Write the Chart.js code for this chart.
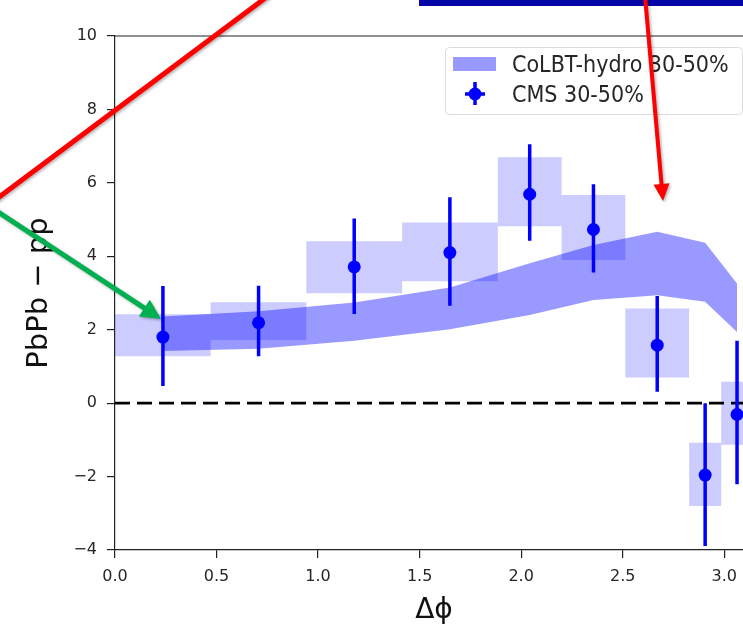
<!DOCTYPE html>
<html lang="en">
<head>
<meta charset="UTF-8">
<title>PbPb - pp</title>
<style>
  html, body { margin: 0; padding: 0; width: 743px; height: 631px; overflow: hidden; background: #fff; }
  .chart-box { position: relative; width: 760px; height: 631px; }
</style>
</head>
<body>

<div class="chart-box">
  <canvas id="myChart"></canvas>
</div>

<script src="https://cdn.jsdelivr.net/npm/chart.js"></script>
<script>

// CMS 30-50% bins (delta phi)
const binEdges = [0, 0.471, 0.942, 1.414, 1.885, 2.199, 2.513, 2.827, 2.985, 3.142];
const binCenters = [0.236, 0.707, 1.178, 1.649, 2.042, 2.356, 2.670, 2.906, 3.063];
const cmsValues = [1.80, 2.19, 3.71, 4.10, 5.69, 4.73, 1.58, -1.96, -0.31];
const statLow  = [0.47, 1.28, 2.43, 2.65, 4.42, 3.56, 0.31, -3.89, -2.21];
const statHigh = [3.19, 3.20, 5.03, 5.61, 7.05, 5.96, 2.92, 0.00, 1.70];
const sysLow   = [1.28, 1.72, 2.99, 3.32, 4.82, 3.90, 0.70, -2.80, -1.13];
const sysHigh  = [2.42, 2.75, 4.41, 4.92, 6.70, 5.67, 2.58, -1.08, 0.58];

// CoLBT-hydro 30-50% band
const bandX     = [0.236, 0.707, 1.178, 1.649, 2.042, 2.356, 2.670, 2.906, 3.063];
const bandUpper = [2.36, 2.50, 2.74, 3.15, 3.81, 4.31, 4.67, 4.37, 3.26];
const bandLower = [1.42, 1.48, 1.70, 2.01, 2.40, 2.81, 2.94, 2.76, 1.94];

const zeroLineX = [0, 3.1416];
const xTicks = [0, 0.5, 1.0, 1.5, 2.0, 2.5, 3.0];
const yTicks = [-4, -2, 0, 2, 4, 6, 8, 10];

const legendLabels = ['CoLBT-hydro 30-50%', 'CMS 30-50%'];

const FONT = "'DejaVu Sans', sans-serif";
const BLUE = 'rgb(0,0,255)';

///
var datasets = [];

datasets.push({
  label: legendLabels[0],
  data: bandX.map((x, i) => ({x: x, y: bandUpper[i]})),
  borderWidth: 0,
  pointRadius: 0,
  fill: '+1',
  backgroundColor: 'rgba(0,0,255,0.4)',
  order: 20
});
datasets.push({
  label: 'band-low',
  data: bandX.map((x, i) => ({x: x, y: bandLower[i]})),
  borderWidth: 0,
  pointRadius: 0,
  fill: false,
  order: 20
});

// systematic boxes
for (let i = 0; i < binCenters.length; i++) {
  datasets.push({
    label: 'sys' + i,
    data: [
      {x: binEdges[i], y: sysLow[i]},
      {x: binEdges[i], y: sysHigh[i]},
      {x: binEdges[i + 1], y: sysHigh[i]},
      {x: binEdges[i + 1], y: sysLow[i]}
    ],
    borderWidth: 0,
    pointRadius: 0,
    fill: 'shape',
    backgroundColor: 'rgba(0,0,255,0.2)',
    order: 15
  });
}

datasets.push({
  label: 'zero',
  data: zeroLineX.map(x => ({x: x, y: 0})),
  borderColor: '#000',
  borderWidth: 2.8,
  borderDash: [15, 7],
  pointRadius: 0,
  fill: false,
  order: 8
});

// stat error bars, one dataset broken by gaps
var errData = [];
binCenters.forEach((x, i) => {
  errData.push({x: x, y: statLow[i]});
  errData.push({x: x, y: statHigh[i]});
  errData.push({x: x, y: null});
});
datasets.push({
  label: 'stat',
  data: errData,
  borderColor: BLUE,
  borderWidth: 3.5,
  pointRadius: 0,
  spanGaps: false,
  fill: false,
  order: 3
});

datasets.push({
  label: legendLabels[1],
  data: binCenters.map((x, i) => ({x: x, y: cmsValues[i]})),
  showLine: false,
  pointRadius: 6.5,
  pointBorderWidth: 0,
  pointBackgroundColor: BLUE,
  order: 1
});

// top spine + legend + the slide overlays
const extras = {
  id: 'extras',
  afterDraw(chart) {
    const ctx = chart.ctx;
    const a = chart.chartArea;
    ctx.save();

    ctx.strokeStyle = '#222';
    ctx.lineWidth = 1.2;
    ctx.beginPath();
    ctx.moveTo(a.left, a.top);
    ctx.lineTo(a.right, a.top);
    ctx.stroke();

    // legend
    ctx.fillStyle = 'rgba(255,255,255,0.8)';
    ctx.strokeStyle = '#dcdcdc';
    ctx.lineWidth = 1;
    ctx.beginPath();
    ctx.roundRect(445.5, 47.5, 297, 67, 4);
    ctx.fill();
    ctx.stroke();

    ctx.fillStyle = 'rgba(0,0,255,0.4)';
    ctx.fillRect(453, 57, 43, 14);

    ctx.strokeStyle = BLUE;
    ctx.lineWidth = 3.5;
    ctx.beginPath();
    ctx.moveTo(475, 82);
    ctx.lineTo(475, 105);
    ctx.moveTo(465, 94);
    ctx.lineTo(485, 94);
    ctx.stroke();
    ctx.fillStyle = BLUE;
    ctx.beginPath();
    ctx.arc(475, 94, 6.5, 0, Math.PI * 2);
    ctx.fill();

    ctx.fillStyle = '#262626';
    ctx.font = '23px ' + FONT;
    ctx.textBaseline = 'alphabetic';
    [[legendLabels[0], 71.5], [legendLabels[1], 102]].forEach(t => {
      ctx.save();
      ctx.translate(512, t[1]);
      ctx.scale(0.9, 1);
      ctx.fillText(t[0], 0, 0);
      ctx.restore();
    });

    // overlays from the slide
    ctx.fillStyle = '#0606a8';
    ctx.fillRect(419, 0, 330, 6);

    ctx.shadowColor = 'rgba(0,0,0,0.3)';
    ctx.shadowBlur = 3;
    ctx.shadowOffsetX = 1.5;
    ctx.shadowOffsetY = 1.5;

    ctx.strokeStyle = '#ff0000';
    ctx.lineWidth = 5;
    ctx.beginPath();
    ctx.moveTo(-5, 200);
    ctx.lineTo(268, -4);
    ctx.stroke();

    arrow(ctx, 645, -4, 663, 201, '#ff0000', 4, 17, 16);
    arrow(ctx, -5, 210, 161, 319, '#00b050', 5, 20, 20);

    ctx.restore();
  }
};

function arrow(ctx, x0, y0, x1, y1, color, w, headLen, headW) {
  var dx = x1 - x0, dy = y1 - y0;
  var len = Math.sqrt(dx * dx + dy * dy);
  var ux = dx / len, uy = dy / len;
  var bx = x1 - ux * headLen, by = y1 - uy * headLen;
  ctx.strokeStyle = color;
  ctx.fillStyle = color;
  ctx.lineWidth = w;
  ctx.beginPath();
  ctx.moveTo(x0, y0);
  ctx.lineTo(bx + ux * 2, by + uy * 2);
  ctx.stroke();
  ctx.beginPath();
  ctx.moveTo(x1, y1);
  ctx.lineTo(bx - uy * headW / 2, by + ux * headW / 2);
  ctx.lineTo(bx + uy * headW / 2, by - ux * headW / 2);
  ctx.closePath();
  ctx.fill();
}

const ctx = document.getElementById('myChart');

var chart = new Chart(ctx, {
  type: 'line',
  data: { datasets: datasets },
  options: {
    responsive: true,
    maintainAspectRatio: false,
    animation: false,
    events: [],
    layout: { padding: { top: 36, right: 7, bottom: 0, left: 0 } },
    plugins: {
      legend: { display: false },
      tooltip: { enabled: false }
    },
    scales: {
      x: {
        type: 'linear',
        min: 0,
        max: 3.1416,
        afterBuildTicks: (scale) => { scale.ticks = xTicks.map(v => ({value: v})); },
        afterFit: (scale) => { scale.height = 81; },
        grid: { drawOnChartArea: false, drawTicks: true, tickLength: 8, color: '#222', lineWidth: 1.2 },
        border: { display: true, color: '#222', width: 1.2 },
        ticks: {
          padding: 9,
          color: '#262626',
          font: { family: FONT, size: 16 },
          maxRotation: 0,
          callback: (v) => Number(v).toFixed(1)
        },
        title: {
          display: true,
          text: 'Δϕ',
          color: '#111',
          font: { family: FONT, size: 28 },
          padding: { top: 0, bottom: 3 }
        }
      },
      y: {
        type: 'linear',
        min: -4,
        max: 10,
        afterBuildTicks: (scale) => { scale.ticks = yTicks.map(v => ({value: v})); },
        afterFit: (scale) => { scale.width = 115; },
        grid: { drawOnChartArea: false, drawTicks: true, tickLength: 8, color: '#222', lineWidth: 1.2 },
        border: { display: true, color: '#222', width: 1.2 },
        ticks: {
          padding: 10,
          color: '#262626',
          font: { family: FONT, size: 16 },
          callback: (v) => v < 0 ? '\u2212' + Math.abs(v) : String(v)
        },
        title: {
          display: true,
          text: 'PbPb \u2212 pp',
          color: '#111',
          font: { family: FONT, size: 29 },
          padding: { top: 22, bottom: 0 }
        }
      }
    }
  },
  plugins: [extras]
});

</script>
</body>
</html>
